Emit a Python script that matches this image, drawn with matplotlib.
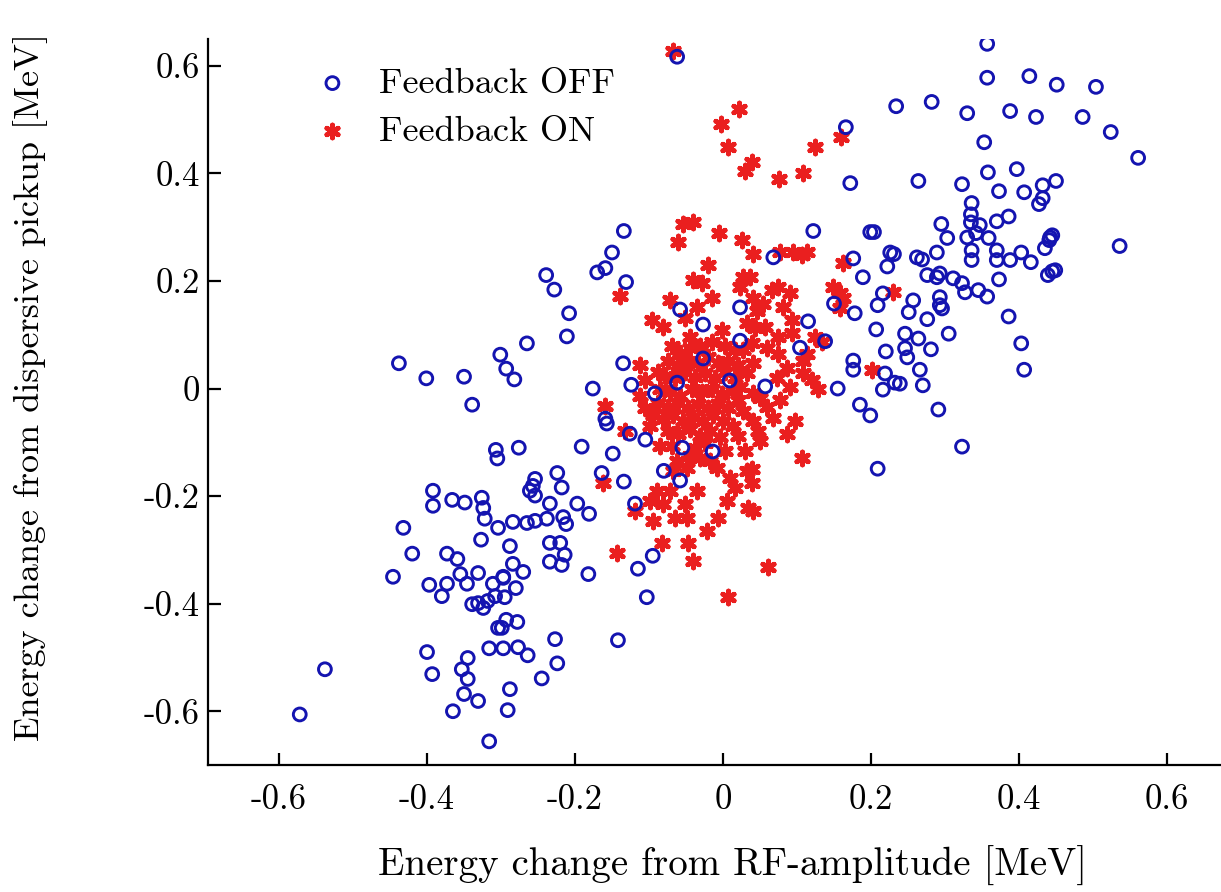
import matplotlib
matplotlib.use("Agg")
import matplotlib.pyplot as plt

plt.rcParams["font.family"] = ["cmr10", "DejaVu Serif"]
plt.rcParams["axes.unicode_minus"] = False
plt.rcParams["mathtext.fontset"] = "cm"

# Feedback OFF: energy change (RF amplitude, dispersive pickup) in MeV
off_x = [
    -0.062, -0.134, -0.150, 0.122, 0.199, 0.068, 0.176, 0.166, 0.172,
    0.357, 0.357, 0.414, 0.451, 0.504, 0.234, 0.282, 0.330, 0.388, 0.423,
    0.486, 0.524, 0.561, 0.353, 0.264, 0.323, 0.358, 0.397, 0.373, 0.407,
    0.432, 0.450, 0.432, 0.427, 0.336, 0.335, 0.335, 0.347, 0.370, 0.386,
    0.295, 0.303, 0.204, 0.330, 0.359, 0.342, 0.442, 0.445, 0.441, 0.435,
    0.536, 0.226, 0.231, 0.262, 0.269, 0.289, 0.336, 0.370, 0.403,
    0.336, 0.370, 0.388, 0.416, 0.445, 0.449, 0.439, 0.276, 0.289, 0.293,
    0.311, 0.323, 0.327, 0.345, 0.357, 0.373, 0.257, 0.251, 0.293, 0.293,
    0.296, 0.276, 0.305, 0.386, 0.403, 0.407, 0.246, 0.264, 0.281, 0.246,
    0.249, 0.266, 0.270, 0.239,
    0.222, 0.189, 0.216, 0.209, 0.150, 0.178, 0.115, 0.138, 0.104, 0.207,
    0.220, 0.176, 0.176, 0.219, 0.232, 0.216, 0.155, 0.023, 0.023, 0.057,
    -0.159, -0.170, -0.131, -0.058, -0.027, -0.135, -0.124, -0.176, -0.027,
    -0.062, 0.009, -0.092,
    -0.159, -0.157, -0.126, -0.105, -0.149, -0.055, -0.014, -0.080, -0.058,
    -0.164, -0.134, -0.119, -0.095,
    -0.288, -0.234, -0.220, -0.234, -0.218, -0.214, -0.284, -0.270, -0.297,
    -0.295, -0.280, -0.182, -0.115, -0.103, -0.142, -0.293, -0.278, -0.299,
    -0.227, -0.297, -0.277, -0.264, -0.224, -0.245, -0.288, -0.291,
    -0.420, -0.373, -0.359, -0.446, -0.397, -0.373, -0.380, -0.355, -0.346,
    -0.331, -0.339, -0.331, -0.324, -0.318, -0.311, -0.297, -0.308, -0.304,
    -0.400, -0.393, -0.345, -0.353, -0.345, -0.350, -0.331, -0.365, -0.316,
    -0.316, -0.538, -0.572,
    -0.339, -0.392, -0.392, -0.366, -0.349, -0.326, -0.324, -0.322, -0.432,
    -0.327,
    -0.191, -0.276, -0.307, -0.305, -0.224, -0.218, -0.254, -0.257, -0.261,
    -0.254, -0.234, -0.197, -0.181, -0.304, -0.284, -0.265, -0.254, -0.238,
    -0.216, -0.212,
    -0.239, -0.228, -0.208, -0.211, -0.265, -0.301, -0.293, -0.282, -0.438,
    -0.401, -0.350,
    0.185, 0.199, 0.291, 0.323, 0.209,
]
off_y = [
    0.617, 0.293, 0.253, 0.293, 0.291, 0.244, 0.242, 0.486, 0.382,
    0.641, 0.578, 0.581, 0.565, 0.561, 0.525, 0.533, 0.512, 0.516, 0.505,
    0.505, 0.477, 0.429, 0.458, 0.386, 0.380, 0.402, 0.408, 0.367, 0.365,
    0.378, 0.386, 0.354, 0.343, 0.345, 0.324, 0.309, 0.304, 0.311, 0.320,
    0.306, 0.280, 0.291, 0.281, 0.280, 0.289, 0.281, 0.285, 0.276, 0.261,
    0.265, 0.253, 0.250, 0.244, 0.240, 0.253, 0.257, 0.257, 0.253,
    0.239, 0.239, 0.239, 0.235, 0.218, 0.220, 0.211, 0.211, 0.207, 0.214,
    0.205, 0.196, 0.179, 0.183, 0.171, 0.203, 0.164, 0.142, 0.170, 0.155,
    0.149, 0.129, 0.102, 0.134, 0.084, 0.035, 0.102, 0.093, 0.073, 0.075,
    0.058, 0.035, 0.006, 0.009,
    0.227, 0.207, 0.177, 0.155, 0.158, 0.140, 0.125, 0.088, 0.076, 0.110,
    0.069, 0.052, 0.035, 0.028, 0.011, -0.002, 0.000, 0.151, 0.089, 0.004,
    0.224, 0.216, 0.198, 0.147, 0.119, 0.047, 0.007, 0.000, 0.056,
    0.011, 0.015, -0.009,
    -0.056, -0.065, -0.084, -0.095, -0.121, -0.110, -0.117, -0.153, -0.171,
    -0.157, -0.173, -0.214, -0.311,
    -0.293, -0.287, -0.287, -0.322, -0.328, -0.309, -0.326, -0.341, -0.350,
    -0.388, -0.371, -0.345, -0.335, -0.388, -0.468, -0.430, -0.434, -0.445,
    -0.466, -0.483, -0.481, -0.496, -0.511, -0.539, -0.559, -0.598,
    -0.307, -0.307, -0.317, -0.350, -0.365, -0.363, -0.386, -0.345, -0.363,
    -0.343, -0.401, -0.399, -0.408, -0.395, -0.363, -0.352, -0.386, -0.445,
    -0.490, -0.531, -0.501, -0.522, -0.540, -0.568, -0.581, -0.600, -0.483,
    -0.656, -0.522, -0.606,
    -0.030, -0.190, -0.218, -0.207, -0.212, -0.203, -0.222, -0.242, -0.259,
    -0.281,
    -0.108, -0.110, -0.114, -0.130, -0.157, -0.184, -0.168, -0.181, -0.190,
    -0.199, -0.214, -0.214, -0.233, -0.259, -0.248, -0.250, -0.246, -0.242,
    -0.239, -0.252,
    0.211, 0.184, 0.140, 0.097, 0.084, 0.063, 0.037, 0.017, 0.047,
    0.019, 0.022,
    -0.030, -0.050, -0.039, -0.108, -0.149,
]

# Feedback ON
on_x = [
    -0.068, 0.022, -0.003, 0.007, 0.039, 0.030, 0.076, 0.108, 0.124, 0.159,
    -0.054, -0.041, -0.061, -0.005, 0.026, 0.041, 0.077, 0.095, 0.107, 0.114,
    0.162, 0.230, 0.149, 0.158, 0.162, 0.158, 0.027, 0.036, 0.023, 0.074,
    0.066, 0.091, 0.041, 0.054, 0.046, 0.081, 0.093, 0.032, 0.043, 0.057,
    0.074, 0.093, 0.124, 0.134, 0.039, 0.027, 0.059, 0.074, 0.114, 0.108,
    0.041, 0.086, 0.032, 0.073, 0.108, 0.120, 0.128, 0.201, 0.091, 0.023,
    0.041,
    -0.020, -0.041, -0.028, -0.139, -0.072, -0.015, -0.035, -0.096, -0.081,
    -0.051, -0.001, -0.045, -0.112, -0.088,
    -0.159, -0.132, -0.095, -0.085, -0.062, -0.049, -0.068, -0.031, -0.008,
    0.009, 0.032, -0.089, -0.072, -0.099, -0.081, -0.051, -0.035, 0.005,
    -0.065, -0.049, -0.095, -0.007, -0.082, -0.047, -0.022, -0.119, -0.143,
    0.034, 0.016, -0.041, 0.007, 0.061,
    0.097, 0.086, 0.050, 0.107, 0.039, 0.039, 0.041, 0.077, 0.059, 0.027,
    0.041, 0.050, 0.068, 0.047, 0.030, -0.162,
    -0.069, -0.058, -0.045, -0.031, -0.015, 0.003, 0.016,
    -0.074, -0.061, -0.047, -0.034, -0.020, -0.007, 0.007, 0.020,
    -0.078, -0.065, -0.051, -0.038, -0.024, -0.011, 0.003, 0.016,
    -0.085, -0.072, -0.058, -0.042, -0.028, -0.015, -0.001, 0.014,
    -0.088, -0.074, -0.061, -0.047, -0.034, -0.020, -0.007, 0.007, 0.020,
    -0.081, -0.068, -0.054, -0.041, -0.027, -0.014, 0.000, 0.014,
    -0.074, -0.061, -0.045, -0.031, -0.018, -0.004, 0.020,
    -0.069, -0.038, -0.024, 0.003, -0.045, -0.018,
    -0.105, -0.099, -0.112, -0.105,
]
on_y = [
    0.628, 0.520, 0.492, 0.449, 0.421, 0.404, 0.389, 0.401, 0.449, 0.468,
    0.306, 0.309, 0.272, 0.289, 0.276, 0.250, 0.253, 0.253, 0.248, 0.253,
    0.233, 0.179, 0.188, 0.177, 0.168, 0.149, 0.207, 0.207, 0.188, 0.188,
    0.183, 0.177, 0.168, 0.158, 0.145, 0.151, 0.127, 0.121, 0.112, 0.114,
    0.095, 0.104, 0.095, 0.086, 0.084, 0.071, 0.076, 0.065, 0.065, 0.052,
    0.048, 0.039, 0.028, 0.020, 0.028, 0.015, 0.000, 0.034, 0.002, 0.002,
    -0.009,
    0.229, 0.201, 0.196, 0.173, 0.164, 0.168, 0.151, 0.127, 0.114,
    0.132, 0.108, 0.095, 0.043, 0.030,
    -0.032, -0.078, -0.050, -0.106, -0.134, -0.147, -0.153, -0.129, -0.147,
    -0.166, -0.153, -0.190, -0.190, -0.209, -0.214, -0.214, -0.190, -0.209,
    -0.240, -0.240, -0.246, -0.240, -0.287, -0.287, -0.265, -0.227, -0.306,
    -0.222, -0.184, -0.320, -0.388, -0.332,
    -0.060, -0.084, -0.097, -0.130, -0.149, -0.175, -0.227, -0.022, -0.035,
    -0.041, -0.060, -0.017, -0.054, -0.078, -0.116, -0.175,
    0.080, 0.067, 0.075, 0.080, 0.086, 0.080, 0.071,
    0.052, 0.043, 0.052, 0.048, 0.058, 0.048, 0.052, 0.043,
    0.024, 0.019, 0.030, 0.022, 0.028, 0.019, 0.030, 0.020,
    0.000, -0.007, -0.013, 0.000, -0.007, 0.000, -0.011, -0.004,
    -0.026, -0.034, -0.026, -0.037, -0.028, -0.037, -0.028, -0.037, -0.022,
    -0.056, -0.050, -0.060, -0.052, -0.060, -0.050, -0.060, -0.069,
    -0.078, -0.084, -0.075, -0.088, -0.078, -0.091, -0.088,
    -0.106, -0.110, -0.102, -0.116, -0.125, -0.134,
    -0.037, -0.069, -0.013, 0.015,
]

x_ticks = [-0.6, -0.4, -0.2, 0, 0.2, 0.4, 0.6]
x_tick_labels = ["-0.6", "-0.4", "-0.2", "0", "0.2", "0.4", "0.6"]
y_ticks = [-0.6, -0.4, -0.2, 0, 0.2, 0.4, 0.6]
y_tick_labels = ["-0.6", "-0.4", "-0.2", "0", "0.2", "0.4", "0.6"]

BLUE = "#1414b0"
RED = "#ea1f1f"

fig = plt.figure(figsize=(12.21, 8.92), dpi=100)
ax = fig.add_axes([208 / 1221, 127 / 892, 1013 / 1221, 726 / 892])

ax.scatter(on_x, on_y, marker=(6, 2, 0), s=85, linewidths=3.5,
           color=RED, label="Feedback ON", zorder=2)
ax.scatter(off_x, off_y, marker="o", s=85, facecolors="none",
           edgecolors=BLUE, linewidths=2.1, label="Feedback OFF", zorder=3)

ax.set_xlim(-0.696, 0.673)
ax.set_ylim(-0.70, 0.65)
ax.set_xticks(x_ticks)
ax.set_xticklabels(x_tick_labels)
ax.set_yticks(y_ticks)
ax.set_yticklabels(y_tick_labels)

ax.spines["top"].set_visible(False)
ax.spines["right"].set_visible(False)
for s in ("left", "bottom"):
    ax.spines[s].set_linewidth(1.6)
ax.tick_params(direction="in", length=9, width=1.6, labelsize=25)
ax.tick_params(axis="x", pad=14)
ax.tick_params(axis="y", pad=6)

ax.set_xlabel("Energy change from RF-amplitude [MeV]", fontsize=28)
ax.set_ylabel("Energy change from dispersive pickup [MeV]", fontsize=26)
ax.xaxis.set_label_coords(0.518, -0.112)
ax.yaxis.set_label_coords(-0.158, 0.52)

handles, labels = ax.get_legend_handles_labels()
ax.legend(handles[::-1], labels[::-1], loc="upper left",
          bbox_to_anchor=(0.105, 0.961), borderaxespad=0, borderpad=0,
          frameon=False, fontsize=26, handletextpad=0.8,
          handlelength=1.0, labelspacing=0.44)

fig.savefig("out.png", dpi=100)
